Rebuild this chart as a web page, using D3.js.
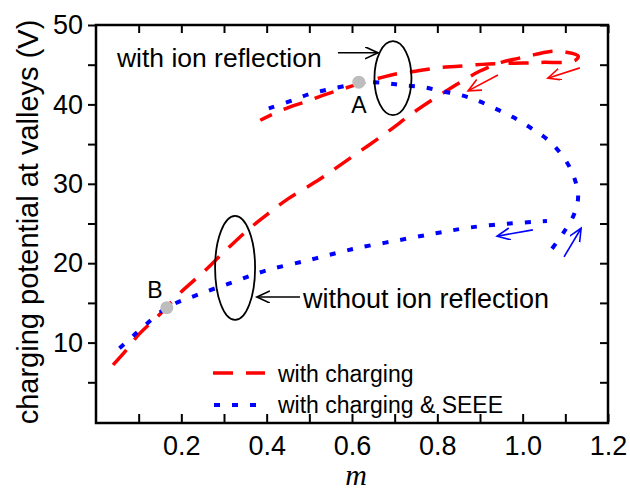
<!DOCTYPE html>
<html>
<head>
<meta charset="utf-8">
<script src="https://cdn.jsdelivr.net/npm/d3@7"></script>
<style>
  body { margin: 0; background: #fff; }
  text { font-family: "Liberation Sans", Arial, sans-serif; fill: #000; }
  .axis path { display: none; }
  .axis line { stroke: #000; stroke-width: 2; }
  .axis text { font-size: 27px; font-family: "Liberation Sans", Arial, sans-serif; }
</style>
</head>
<body>
<div id="chart"></div>
<script>
// red dashed: with charging (lower branch -> top loop -> upper branch)
var redM = [0.04, 0.07, 0.10, 0.143, 0.166, 0.20, 0.25, 0.30, 0.356, 0.40, 0.45, 0.525, 0.60, 0.68, 0.75, 0.83, 0.90, 0.95, 0.99, 1.03, 1.07, 1.10, 1.13, 1.125, 1.10, 1.05, 1.00, 0.92, 0.85, 0.80, 0.74, 0.70, 0.67, 0.63, 0.57, 0.53, 0.49, 0.455, 0.42, 0.385];
var redV = [7.2, 9.0, 11.0, 13.2, 14.5, 16.4, 18.8, 21.4, 24.2, 26.1, 28.1, 30.6, 33.4, 36.4, 39.2, 42.0, 44.2, 45.3, 45.8, 46.3, 46.7, 46.6, 46.1, 45.6, 45.3, 45.3, 45.2, 45.1, 44.8, 44.6, 44.1, 43.8, 43.4, 42.8, 41.8, 41.1, 40.3, 39.7, 38.9, 38.0];

// blue dotted: with charging & SEEE
var blueLowM = [0.055, 0.08, 0.103, 0.166, 0.237, 0.32, 0.40, 0.50, 0.58, 0.62, 0.71, 0.80, 0.877, 0.97, 1.057];
var blueLowV = [9.3, 10.5, 11.6, 14.4, 16.0, 17.6, 19.1, 20.4, 21.5, 22.0, 22.9, 23.8, 24.5, 25.0, 25.3];
var blueUpM = [0.405, 0.46, 0.50, 0.546, 0.59, 0.62, 0.677, 0.72, 0.764, 0.806, 0.853, 0.893, 0.935, 0.977, 1.02, 1.064, 1.10, 1.12, 1.13, 1.12, 1.095, 1.06];
var blueUpV = [39.5, 40.5, 41.3, 41.9, 42.4, 42.75, 42.7, 42.4, 42.2, 41.7, 41.2, 40.5, 39.5, 38.4, 37.0, 35.3, 33.0, 30.9, 28.4, 26.1, 23.8, 21.2];

// marked points A and B
var pointNames = ["A", "B"];
var pointM = [0.616, 0.166];
var pointV = [42.8, 14.4];

var xTicks = [0.1, 0.2, 0.3, 0.4, 0.5, 0.6, 0.7, 0.8, 0.9, 1.0, 1.1, 1.2];
var yTicks = [5, 10, 15, 20, 25, 30, 35, 40, 45, 50];

function init() {
    var w = 630, h = 497;
    var left = 96, right = 608, top = 25, bottom = 422;

    var svg = d3.select("#chart").append("svg")
        .attr("width", w)
        .attr("height", h);

    var x = d3.scaleLinear().domain([0, 1.2]).range([left, right]);
    var y = d3.scaleLinear().domain([0, 50]).range([bottom, top]);

    // arrow heads
    var defs = svg.append("defs");
    [["black", "#000"], ["red", "#ff0000"], ["blue", "#0000ff"]].forEach(function(c) {
        defs.append("marker")
            .attr("id", "head-" + c[0])
            .attr("markerUnits", "userSpaceOnUse")
            .attr("markerWidth", 16).attr("markerHeight", 14)
            .attr("refX", 13).attr("refY", 6)
            .attr("orient", "auto")
            .append("path")
            .attr("d", "M0,0 L13,6 L0,12")
            .attr("fill", "none")
            .attr("stroke", c[1])
            .attr("stroke-width", 1.6);
    });

    // axes: left ticks outward, others inward
    svg.append("g").attr("class", "axis")
        .attr("transform", "translate(" + left + ",0)")
        .call(d3.axisLeft(y).tickValues(yTicks).tickSize(8).tickSizeOuter(0).tickPadding(5)
            .tickFormat(function(d) { return d % 10 === 0 ? d : ""; }));

    svg.append("g").attr("class", "axis")
        .attr("transform", "translate(0," + bottom + ")")
        .call(d3.axisBottom(x).tickValues(xTicks).tickSize(-8).tickSizeOuter(0).tickPadding(14)
            .tickFormat(function(d) { return Math.round(d * 10) % 2 === 0 ? d3.format(".1f")(d) : ""; }));

    svg.append("g").attr("class", "axis")
        .attr("transform", "translate(0," + top + ")")
        .call(d3.axisTop(x).tickValues(xTicks).tickSize(-8).tickSizeOuter(0).tickFormat(""));

    svg.append("g").attr("class", "axis")
        .attr("transform", "translate(" + right + ",0)")
        .call(d3.axisRight(y).tickValues(yTicks).tickSize(-8).tickSizeOuter(0).tickFormat(""));

    svg.append("rect")
        .attr("x", left).attr("y", top)
        .attr("width", right - left).attr("height", bottom - top + 1)
        .attr("fill", "none").attr("stroke", "#000").attr("stroke-width", 2.5);

    // curves
    var line = d3.line()
        .x(function(d) { return x(d[0]); })
        .y(function(d) { return y(d[1]); })
        .curve(d3.curveCatmullRom.alpha(0.5));

    svg.append("path")
        .datum(d3.zip(redM, redV))
        .attr("d", line)
        .attr("fill", "none")
        .attr("stroke", "#ff0000")
        .attr("stroke-width", 3.5)
        .attr("stroke-dasharray", "20,13");

    [[blueLowM, blueLowV], [blueUpM, blueUpV]].forEach(function(s) {
        svg.append("path")
            .datum(d3.zip(s[0], s[1]))
            .attr("d", line)
            .attr("fill", "none")
            .attr("stroke", "#0000ff")
            .attr("stroke-width", 4)
            .attr("stroke-dasharray", "6,12");
    });

    // points A and B
    svg.selectAll(".pt")
        .data(d3.zip(pointM, pointV))
        .enter().append("circle")
        .attr("class", "pt")
        .attr("cx", function(d) { return x(d[0]); })
        .attr("cy", function(d) { return y(d[1]); })
        .attr("r", 6.5)
        .attr("fill", "#bdbdbd");

    svg.append("text").text(pointNames[0])
        .attr("x", x(pointM[0])).attr("y", y(38.9))
        .attr("text-anchor", "middle").style("font-size", "23px");
    svg.append("text").text(pointNames[1])
        .attr("x", x(0.138)).attr("y", y(15.6))
        .attr("text-anchor", "middle").style("font-size", "23px");

    // ellipses
    svg.append("ellipse")
        .attr("cx", x(0.696)).attr("cy", y(43.3))
        .attr("rx", 18.5).attr("ry", 37)
        .attr("fill", "none").attr("stroke", "#000").attr("stroke-width", 1.8);
    svg.append("ellipse")
        .attr("cx", x(0.326)).attr("cy", y(19.4))
        .attr("rx", 20).attr("ry", 52)
        .attr("fill", "none").attr("stroke", "#000").attr("stroke-width", 1.8);

    // annotation texts
    svg.append("text").text("with ion reflection")
        .attr("x", x(0.049)).attr("y", y(44.7))
        .style("font-size", "26.5px");
    svg.append("text").text("without ion reflection")
        .attr("x", x(0.485)).attr("y", y(14.36))
        .style("font-size", "27px");

    // arrows [m1, v1, m2, v2, colour]
    var arrows = [
        [0.567, 46.5, 0.661, 46.5, "black"],
        [0.478, 15.74, 0.377, 15.74, "black"],
        [0.942, 43.7, 0.872, 41.7, "red"],
        [1.134, 44.6, 1.059, 43.3, "red"],
        [1.024, 24.2, 0.94, 23.4, "blue"],
        [1.097, 20.8, 1.137, 24.4, "blue"]
    ];
    var colours = { black: "#000", red: "#ff0000", blue: "#0000ff" };
    svg.selectAll(".arrow")
        .data(arrows)
        .enter().append("line")
        .attr("class", "arrow")
        .attr("x1", function(d) { return x(d[0]); })
        .attr("y1", function(d) { return y(d[1]); })
        .attr("x2", function(d) { return x(d[2]); })
        .attr("y2", function(d) { return y(d[3]); })
        .attr("stroke", function(d) { return colours[d[4]]; })
        .attr("stroke-width", 1.6)
        .attr("marker-end", function(d) { return "url(#head-" + d[4] + ")"; });

    // legend
    var legend = svg.append("g");
    legend.append("line")
        .attr("x1", 213).attr("x2", 265).attr("y1", 373).attr("y2", 373)
        .attr("stroke", "#ff0000").attr("stroke-width", 3.5)
        .attr("stroke-dasharray", "20,13");
    legend.append("text").text("with charging")
        .attr("x", 278).attr("y", 382).style("font-size", "23px");
    legend.append("line")
        .attr("x1", 214).attr("x2", 262).attr("y1", 405).attr("y2", 405)
        .attr("stroke", "#0000ff").attr("stroke-width", 4)
        .attr("stroke-dasharray", "6,12");
    legend.append("text").text("with charging & SEEE")
        .attr("x", 278).attr("y", 413).style("font-size", "23px");

    // axis titles
    svg.append("text")
        .attr("transform", "translate(38,222) rotate(-90)")
        .attr("text-anchor", "middle")
        .style("font-size", "29px")
        .text("charging potential at valleys (V)");

    svg.append("text")
        .attr("x", 356).attr("y", 485)
        .attr("text-anchor", "middle")
        .style("font-family", "'Liberation Serif', 'Times New Roman', serif")
        .style("font-style", "italic")
        .style("font-size", "30px")
        .text("m");
}

window.onload = init;
</script>
</body>
</html>
